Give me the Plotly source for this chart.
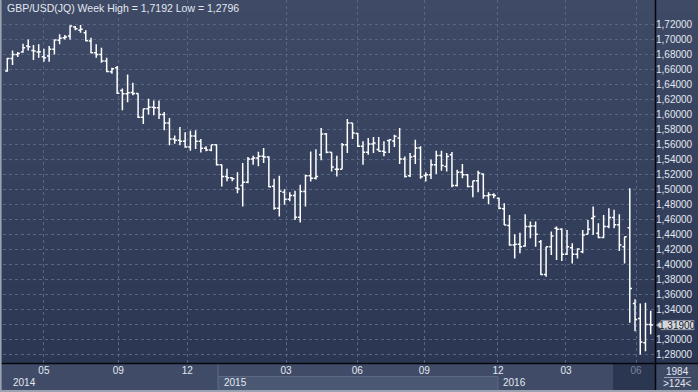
import plotly.graph_objects as go

# ---------------- data (weekly OHLC) ----------------
opens = [1.6576, 1.6745, 1.6799, 1.6830, 1.6910, 1.6852, 1.6830, 1.6768, 1.6776, 1.6866,
         1.6986, 1.7022, 1.7044, 1.7164, 1.7120, 1.7089, 1.6977, 1.6821, 1.6799, 1.6710,
         1.6567, 1.6620, 1.6317, 1.6273, 1.6290, 1.6277, 1.5961, 1.6073, 1.6095, 1.6086,
         1.5996, 1.5885, 1.5671, 1.5653, 1.5640, 1.5564, 1.5710, 1.5640, 1.5546, 1.5523,
         1.5595, 1.5328, 1.5172, 1.5154, 1.5016, 1.5050, 1.5095, 1.5404, 1.5417, 1.5440,
         1.5430, 1.5040, 1.4748, 1.4960, 1.4868, 1.4917, 1.4628, 1.4971, 1.5180, 1.5149,
         1.5462, 1.5738, 1.5494, 1.5266, 1.5266, 1.5595, 1.5885, 1.5743, 1.5573, 1.5494,
         1.5604, 1.5530, 1.5507, 1.5650, 1.5644, 1.5684, 1.5403, 1.5180, 1.5440, 1.5550,
         1.5185, 1.5194, 1.5328, 1.5452, 1.5305, 1.5461, 1.5052, 1.5229, 1.5194, 1.5038,
         1.5114, 1.5203, 1.4913, 1.4926, 1.4882, 1.4740, 1.4516, 1.4258, 1.4267, 1.4244,
         1.4503, 1.4512, 1.4302, 1.3865, 1.4235, 1.4481, 1.4467, 1.4133, 1.4222, 1.4133,
         1.4168, 1.4400, 1.4615, 1.4414, 1.4356, 1.4503, 1.4624, 1.4526, 1.4235, 1.4489,
         1.3477, 1.3277, 1.2955, 1.3197]
highs = [1.6754, 1.6852, 1.6830, 1.6941, 1.6999, 1.6924, 1.6933, 1.6875, 1.6910, 1.6999,
         1.7066, 1.7057, 1.7187, 1.7178, 1.7192, 1.7120, 1.7022, 1.6933, 1.6888, 1.6754,
         1.6620, 1.6643, 1.6344, 1.6531, 1.6420, 1.6280, 1.6075, 1.6206, 1.6184, 1.6184,
         1.6032, 1.5952, 1.5719, 1.5831, 1.5760, 1.5782, 1.5787, 1.5671, 1.5573, 1.5595,
         1.5600, 1.5330, 1.5273, 1.5160, 1.5229, 1.5350, 1.5430, 1.5448, 1.5500, 1.5550,
         1.5440, 1.5140, 1.5180, 1.5002, 1.4960, 1.4980, 1.5060, 1.5194, 1.5503, 1.5534,
         1.5818, 1.5752, 1.5494, 1.5449, 1.5617, 1.5938, 1.5885, 1.5752, 1.5640, 1.5685,
         1.5698, 1.5698, 1.5640, 1.5662, 1.5729, 1.5818, 1.5439, 1.5484, 1.5662, 1.5573,
         1.5229, 1.5396, 1.5515, 1.5515, 1.5484, 1.5497, 1.5261, 1.5336, 1.5203, 1.5114,
         1.5246, 1.5210, 1.4962, 1.4948, 1.4891, 1.4814, 1.4659, 1.4400, 1.4422, 1.4668,
         1.4570, 1.4570, 1.4324, 1.4235, 1.4436, 1.4503, 1.4481, 1.4458, 1.4280, 1.4213,
         1.4458, 1.4592, 1.4771, 1.4548, 1.4659, 1.4748, 1.4726, 1.4668, 1.4369, 1.5015,
         1.3535, 1.3477, 1.3486, 1.3379]
lows = [1.6567, 1.6656, 1.6763, 1.6820, 1.6852, 1.6723, 1.6754, 1.6701, 1.6701, 1.6799,
        1.6933, 1.6999, 1.6999, 1.7120, 1.7089, 1.6975, 1.6815, 1.6754, 1.6687, 1.6560,
        1.6540, 1.6270, 1.6054, 1.6161, 1.6255, 1.5952, 1.5872, 1.5996, 1.5987, 1.5938,
        1.5787, 1.5586, 1.5608, 1.5586, 1.5555, 1.5515, 1.5537, 1.5492, 1.5506, 1.5506,
        1.5319, 1.5038, 1.5109, 1.5109, 1.4949, 1.4770, 1.5080, 1.5328, 1.5306, 1.5350,
        1.5029, 1.4726, 1.4637, 1.4793, 1.4840, 1.4592, 1.4556, 1.4771, 1.5105, 1.5130,
        1.5386, 1.5480, 1.5239, 1.5172, 1.5266, 1.5485, 1.5671, 1.5564, 1.5328, 1.5462,
        1.5485, 1.5507, 1.5440, 1.5485, 1.5564, 1.5336, 1.5158, 1.5165, 1.5336, 1.5140,
        1.5105, 1.5136, 1.5203, 1.5248, 1.5238, 1.5029, 1.5038, 1.5149, 1.5029, 1.4895,
        1.4962, 1.4873, 1.4801, 1.4882, 1.4734, 1.4525, 1.4249, 1.4079, 1.4146, 1.4235,
        1.4347, 1.4235, 1.3856, 1.3834, 1.4124, 1.4058, 1.4043, 1.4124, 1.4012, 1.4079,
        1.4146, 1.4400, 1.4391, 1.4347, 1.4347, 1.4481, 1.4481, 1.4178, 1.4012, 1.3219,
        1.3107, 1.2796, 1.2839, 1.3067]
closes = [1.6745, 1.6799, 1.6812, 1.6888, 1.6901, 1.6843, 1.6834, 1.6754, 1.6866, 1.6990,
          1.7013, 1.7031, 1.7178, 1.7142, 1.7133, 1.6980, 1.6821, 1.6799, 1.6710, 1.6570,
          1.6607, 1.6280, 1.6273, 1.6286, 1.6277, 1.5961, 1.6073, 1.6095, 1.6086, 1.5996,
          1.5885, 1.5671, 1.5653, 1.5640, 1.5564, 1.5710, 1.5640, 1.5546, 1.5523, 1.5595,
          1.5328, 1.5172, 1.5154, 1.5140, 1.5003, 1.5095, 1.5404, 1.5417, 1.5440, 1.5430,
          1.5035, 1.4748, 1.4975, 1.4868, 1.4917, 1.4628, 1.4971, 1.5180, 1.5149, 1.5172,
          1.5738, 1.5494, 1.5297, 1.5266, 1.5595, 1.5885, 1.5752, 1.5573, 1.5494, 1.5604,
          1.5617, 1.5507, 1.5494, 1.5660, 1.5706, 1.5403, 1.5171, 1.5430, 1.5550, 1.5167,
          1.5194, 1.5328, 1.5452, 1.5319, 1.5439, 1.5052, 1.5229, 1.5194, 1.5038, 1.5114,
          1.5216, 1.4913, 1.4926, 1.4917, 1.4746, 1.4525, 1.4258, 1.4267, 1.4235, 1.4503,
          1.4512, 1.4400, 1.3865, 1.4235, 1.4378, 1.4467, 1.4133, 1.4235, 1.4133, 1.4204,
          1.4391, 1.4467, 1.4637, 1.4356, 1.4503, 1.4624, 1.4526, 1.4258, 1.4369, 1.3678,
          1.3263, 1.2964, 1.3197, 1.3190]
bar_index = list(range(len(opens)))

price_ticks = [1.28, 1.30, 1.32, 1.34, 1.36, 1.38, 1.40, 1.42, 1.44, 1.46, 1.48, 1.50,
               1.52, 1.54, 1.56, 1.58, 1.60, 1.62, 1.64, 1.66, 1.68, 1.70, 1.72]
month_labels = ["05", "09", "12", "03", "06", "09", "12", "03", "06"]
month_at_bar = [7.0, 21.2, 34.4, 53.3, 66.9, 79.7, 93.8, 106.8, 120.2]
year_labels = ["2014", "2015", "2016"]
title_text = "GBP/USD(JQ) Week High = 1,7192 Low = 1,2796"
last_price = 1.3190
bars_info = ["1984", ">124<"]

# ---------------- layout helpers (pixel -> paper) ----------------
W, H = 698, 392
L, R, T, B = 3, 43, 0, 29
PW, PH = W - L - R, H - T - B
Y_LO, Y_HI = 1.2684, 1.7524


def px(X):
    return (X - L) / PW


def py(Y):
    return (H - B - Y) / PH


def fmt(v, nd=5):
    return f"{v:.{nd}f}".replace(".", ",")


FONT = "Liberation Sans, Arial, sans-serif"
TXT = "#e3e7ef"

fig = go.Figure()
fig.add_trace(go.Ohlc(
    x=bar_index, open=opens, high=highs, low=lows, close=closes,
    increasing=dict(line=dict(color="#ffffff", width=1.5)),
    decreasing=dict(line=dict(color="#ffffff", width=1.5)),
    tickwidth=0.42, hoverinfo="skip", showlegend=False,
))

shapes = []
# vertical gradient background
top_c = (0x3f, 0x4b, 0x66)
bot_c = (0x2b, 0x36, 0x53)
N = 60
for k in range(N):
    t = (k + 0.5) / N
    c = tuple(round(top_c[i] + (bot_c[i] - top_c[i]) * t) for i in range(3))
    y0 = 363 * k / N
    y1 = 363 * (k + 1) / N + 0.6
    shapes.append(dict(type="rect", xref="paper", yref="paper", layer="below",
                       x0=px(0), x1=px(W), y0=py(y1), y1=py(y0),
                       fillcolor="rgb(%d,%d,%d)" % c, line=dict(width=0)))

# bottom time axis bar
shapes += [
    dict(type="rect", xref="paper", yref="paper", x0=px(0), x1=px(655), y0=py(391), y1=py(363),
         fillcolor="#404c67", line=dict(width=0), layer="below"),
    dict(type="rect", xref="paper", yref="paper", x0=px(218), x1=px(498), y0=py(391), y1=py(376.5),
         fillcolor="#4b5874", line=dict(width=0), layer="below"),
    dict(type="line", xref="paper", yref="paper", x0=px(218), x1=px(498), y0=py(376.5), y1=py(376.5),
         line=dict(color="#5d6a85", width=1), layer="below"),
    dict(type="line", xref="paper", yref="paper", x0=px(218), x1=px(218), y0=py(391), y1=py(363),
         line=dict(color="#5d6a85", width=1), layer="below"),
    dict(type="line", xref="paper", yref="paper", x0=px(498), x1=px(498), y0=py(391), y1=py(376.5),
         line=dict(color="#5d6a85", width=1), layer="below"),
    dict(type="rect", xref="paper", yref="paper", x0=px(613), x1=px(655), y0=py(390), y1=py(364),
         fillcolor="#2b3650", line=dict(width=0), layer="below"),
    dict(type="rect", xref="paper", yref="paper", x0=px(655), x1=px(W), y0=py(392), y1=py(363),
         fillcolor="#3e4a64", line=dict(width=0), layer="below"),
    dict(type="line", xref="paper", yref="paper", x0=px(664), x1=px(691), y0=py(377.5), y1=py(377.5),
         line=dict(color="#9aa2b3", width=1), layer="below"),
    # black separators
    dict(type="line", xref="paper", yref="paper", x0=px(0), x1=px(W), y0=py(363.5), y1=py(363.5),
         line=dict(color="#05070c", width=1.5)),
    dict(type="line", xref="paper", yref="paper", x0=px(655.5), x1=px(655.5), y0=py(H), y1=py(0),
         line=dict(color="#05070c", width=1.5)),
    # light outer frame (left and bottom)
    dict(type="line", xref="paper", yref="paper", x0=px(0.8), x1=px(0.8), y0=py(H), y1=py(0),
         line=dict(color="#9ba3b2", width=1.6)),
    dict(type="line", xref="paper", yref="paper", x0=px(0), x1=px(W), y0=py(391), y1=py(391),
         line=dict(color="#9ba3b2", width=2)),
]

# last price marker
dy = 4.6 / PH * (Y_HI - Y_LO)
shapes.append(dict(
    type="path", xref="paper", yref="y",
    path=f"M {px(656.5)},{last_price} L {px(661.5)},{last_price + dy} L {px(694)},{last_price + dy} "
         f"L {px(694)},{last_price - dy} L {px(661.5)},{last_price - dy} Z",
    fillcolor="#d3d6dc", line=dict(color="#8b93a3", width=1)))

annotations = [
    dict(x=px(5), y=py(8.5), xref="paper", yref="paper", text=title_text, showarrow=False,
         xanchor="left", yanchor="middle", font=dict(family=FONT, size=10.5, color=TXT)),
    dict(x=px(677), y=last_price, xref="paper", yref="y", text=fmt(last_price), showarrow=False,
         xanchor="center", yanchor="middle", font=dict(family=FONT, size=10, color="#1c2130")),
    dict(x=px(677), y=py(371.5), xref="paper", yref="paper", text=bars_info[0], showarrow=False,
         xanchor="center", yanchor="middle", font=dict(family=FONT, size=10, color=TXT)),
    dict(x=px(677), y=py(383.5), xref="paper", yref="paper", text=bars_info[1], showarrow=False,
         xanchor="center", yanchor="middle", font=dict(family=FONT, size=10, color=TXT)),
]
for lab, xx in zip(year_labels, [11, 222, 501]):
    annotations.append(dict(x=px(xx), y=py(382.5), xref="paper", yref="paper", text=lab,
                            showarrow=False, xanchor="left", yanchor="middle",
                            font=dict(family=FONT, size=10, color=TXT)))

tick_text_x = [m if i < len(month_labels) - 1 else f"<span style='color:#7b8599'>{m}</span>"
               for i, m in enumerate(month_labels)]
# the price label covered by the last-price marker is not shown in the reference
tick_text_y = ["" if abs(v - last_price) < 0.01 else fmt(v) for v in price_ticks]

fig.update_layout(
    width=W, height=H, margin=dict(l=L, r=R, t=T, b=B, pad=0),
    paper_bgcolor="#2e3955", plot_bgcolor="#35405c",
    shapes=shapes, annotations=annotations, showlegend=False,
    xaxis=dict(range=[(L - 7.3) / 5.231, (655 - 7.3) / 5.231], rangeslider=dict(visible=False),
               tickmode="array", tickvals=month_at_bar, ticktext=tick_text_x,
               showgrid=True, gridcolor="#596683", griddash="3px,3px", gridwidth=1,
               zeroline=False, showline=False, ticks="", ticklen=0,
               tickfont=dict(family=FONT, size=10, color=TXT), fixedrange=True),
    yaxis=dict(range=[Y_LO, Y_HI], side="right", tickmode="array", tickvals=price_ticks,
               ticktext=tick_text_y, showgrid=True, gridcolor="#596683",
               griddash="3px,3px", gridwidth=1, zeroline=False, showline=False, ticks="",
               tickfont=dict(family=FONT, size=10, color=TXT), fixedrange=True),
)

fig.write_html("out.html")
